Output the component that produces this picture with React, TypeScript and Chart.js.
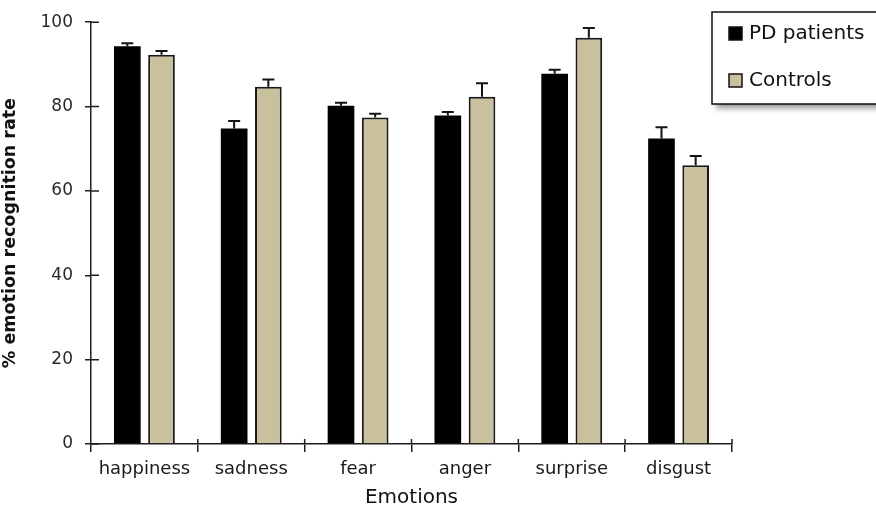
import React, { useEffect, useRef } from "react";
import { Chart, registerables } from "chart.js";

Chart.register(...registerables);

const categories = ["happiness", "sadness", "fear", "anger", "surprise", "disgust"];
const seriesNames = ["PD patients", "Controls"];
const pdValues = [94.3, 74.8, 80.2, 77.9, 87.8, 72.4];
const pdErrors = [0.7, 1.8, 0.7, 0.8, 0.9, 2.7];
const controlValues = [92.3, 84.7, 77.4, 82.3, 96.3, 66.1];
const controlErrors = [0.9, 1.7, 0.9, 3.2, 2.3, 2.2];
const yTicks = [0, 20, 40, 60, 80, 100];

const FONT = "'DejaVu Sans', 'Liberation Sans', Arial, sans-serif";
const AXIS = "#1e1e1e";

const errorBarPlugin = {
  id: "errorBars",
  afterDatasetsDraw(chart: any) {
    const ctx = chart.ctx;
    const yScale = chart.scales.y;
    chart.data.datasets.forEach((ds: any, i: number) => {
      const meta = chart.getDatasetMeta(i);
      const errs: number[] = ds.errors || [];
      meta.data.forEach((bar: any, j: number) => {
        const v = ds.data[j];
        const top = yScale.getPixelForValue(v + errs[j]);
        ctx.save();
        ctx.strokeStyle = "#151515";
        ctx.lineWidth = 2;
        ctx.beginPath();
        ctx.moveTo(bar.x, bar.y);
        ctx.lineTo(bar.x, top);
        ctx.moveTo(bar.x - 6, top);
        ctx.lineTo(bar.x + 6, top);
        ctx.stroke();
        ctx.restore();
      });
    });
  },
};

const innerTicksPlugin = {
  id: "innerTicks",
  afterDraw(chart: any) {
    const ctx = chart.ctx;
    const { x, y } = chart.scales;
    const area = chart.chartArea;
    ctx.save();
    ctx.strokeStyle = AXIS;
    ctx.lineWidth = 1.5;
    ctx.beginPath();
    y.ticks.forEach((t: any) => {
      const py = y.getPixelForValue(t.value);
      ctx.moveTo(area.left, py);
      ctx.lineTo(area.left + 8, py);
    });
    for (let i = 1; i <= categories.length; i++) {
      const px = x.getPixelForValue(i - 0.5);
      ctx.moveTo(px, area.bottom);
      ctx.lineTo(px, area.bottom - 5);
    }
    ctx.stroke();
    ctx.restore();
  },
};

const legendBoxPlugin = {
  id: "legendBox",
  afterDraw(chart: any) {
    const ctx = chart.ctx;
    const left = 712;
    const top = 12;
    const w = 180;
    const h = 92;
    ctx.save();
    ctx.shadowColor = "rgba(0,0,0,0.45)";
    ctx.shadowBlur = 6;
    ctx.shadowOffsetX = 4;
    ctx.shadowOffsetY = 4;
    ctx.fillStyle = "#ffffff";
    ctx.fillRect(left, top, w, h);
    ctx.restore();
    ctx.save();
    ctx.strokeStyle = "#111";
    ctx.lineWidth = 1.5;
    ctx.strokeRect(left, top, w, h);
    ctx.font = `20px ${FONT}`;
    ctx.textBaseline = "middle";
    chart.data.datasets.forEach((ds: any, i: number) => {
      const cy = 34 + i * 47;
      ctx.fillStyle = ds.backgroundColor;
      ctx.fillRect(729, cy - 7, 13, 13);
      ctx.strokeStyle = "#111";
      ctx.lineWidth = 1.5;
      ctx.strokeRect(729, cy - 7, 13, 13);
      ctx.fillStyle = "#111";
      ctx.fillText(ds.label, 749, cy);
    });
    ctx.restore();
  },
};

export default function App() {
  const ref = useRef<HTMLCanvasElement | null>(null);

  useEffect(() => {
    if (!ref.current) return;
    const chart = new Chart(ref.current, {
      type: "bar",
      data: {
        labels: categories,
        datasets: [
          {
            label: seriesNames[0],
            data: pdValues,
            errors: pdErrors,
            backgroundColor: "#000000",
            borderColor: "#000000",
            borderWidth: 0,
          } as any,
          {
            label: seriesNames[1],
            data: controlValues,
            errors: controlErrors,
            backgroundColor: "#c9c19d",
            borderColor: "#1a1a1a",
            borderWidth: 2,
          } as any,
        ],
      },
      options: {
        animation: false,
        responsive: false,
        layout: { padding: { left: 0, right: 144, top: 17, bottom: 0 } },
        plugins: {
          legend: { display: false },
          tooltip: { enabled: false },
        },
        datasets: {
          bar: { categoryPercentage: 0.64, barPercentage: 0.78 },
        },
        scales: {
          x: {
            grid: {
              display: true,
              offset: true,
              drawOnChartArea: false,
              drawTicks: true,
              tickLength: 8,
              color: AXIS,
              lineWidth: 1.5,
            },
            border: { display: true, color: AXIS, width: 1.5 },
            ticks: {
              color: "#1a1a1a",
              font: { family: FONT, size: 18 },
              padding: 7,
              maxRotation: 0,
            },
            title: {
              display: true,
              text: "Emotions",
              color: "#111",
              font: { family: FONT, size: 20 },
              padding: { top: 8, bottom: 8 },
            },
            afterFit(scale: any) {
              scale.height = 74;
            },
          },
          y: {
            min: 0,
            max: 100,
            afterBuildTicks(scale: any) {
              scale.ticks = yTicks.map((v) => ({ value: v }));
            },
            grid: {
              display: true,
              drawOnChartArea: false,
              drawTicks: true,
              tickLength: 6,
              color: AXIS,
              lineWidth: 1.5,
            },
            border: { display: true, color: AXIS, width: 1.5 },
            ticks: {
              color: "#2a2a2a",
              font: { family: FONT, size: 17 },
              padding: 12,
            },
            title: {
              display: true,
              text: "% emotion recognition rate",
              color: "#111",
              font: { family: FONT, size: 17.5, weight: "bold" },
              padding: { top: 0, bottom: 0 },
            },
            afterFit(scale: any) {
              scale.width = 91;
            },
          },
        },
      } as any,
      plugins: [errorBarPlugin, innerTicksPlugin, legendBoxPlugin],
    });
    return () => chart.destroy();
  }, []);

  return (
    <div style={{ position: "fixed", left: 0, top: 0, width: 876, height: 518, background: "#fff" }}>
      <canvas ref={ref} width={876} height={518} style={{ width: 876, height: 518 }} />
    </div>
  );
}
